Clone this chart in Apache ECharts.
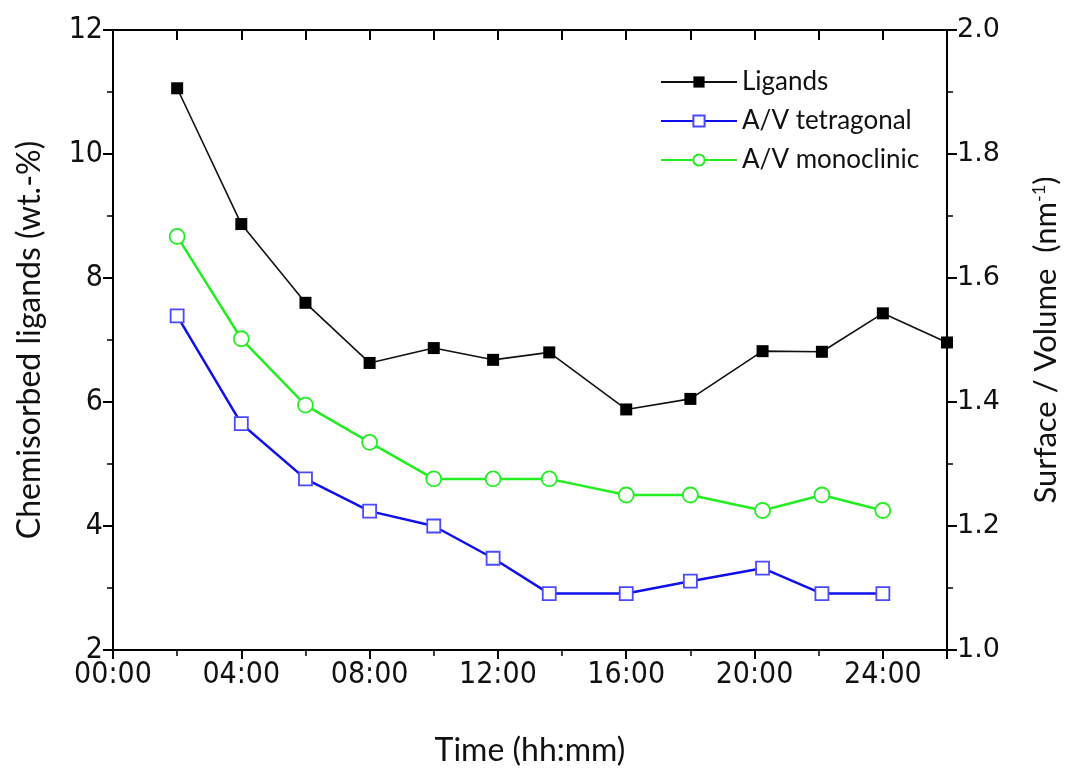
<!DOCTYPE html>
<html>
<head>
<meta charset="utf-8">
<script src="https://cdn.jsdelivr.net/npm/echarts@6/dist/echarts.min.js"></script>
<style>
html,body{margin:0;padding:0;background:#fff;overflow:hidden;}
#chart{width:1065px;height:769px;}
</style>
</head>
<body>
<div id="chart"></div>
<script>
// hours since start
const timeLigands = [2, 4, 6, 8, 10, 11.85, 13.6, 16, 18, 20.25, 22.1, 24, 26];
const ligands = [11.06, 8.87, 7.60, 6.63, 6.87, 6.68, 6.80, 5.88, 6.05, 6.82, 6.81, 7.43, 6.96];
const timeAV = [2, 4, 6, 8, 10, 11.85, 13.6, 16, 18, 20.25, 22.1, 24];
const avTetragonal = [1.539, 1.365, 1.276, 1.224, 1.200, 1.148, 1.091, 1.091, 1.111, 1.132, 1.091, 1.091];
const avMonoclinic = [1.667, 1.502, 1.395, 1.335, 1.276, 1.276, 1.276, 1.250, 1.250, 1.225, 1.250, 1.225];
const seriesNames = ['Ligands', 'A/V tetragonal', 'A/V monoclinic'];

const FONT = '"Liberation Sans Narrow", "DejaVu Sans Condensed", Lato, sans-serif';
const FONT2 = 'Lato, "Open Sans", sans-serif';

function zip(xs, ys){ return xs.map((x,i)=>[x, ys[i]]); }
function fmtTime(v){
  if (Math.abs(v % 4) > 1e-9) return '';
  const h = Math.round(v);
  return (h < 10 ? '0' + h : '' + h) + ':00';
}

const chart = echarts.init(document.getElementById('chart'));
const axisLine = {show: true, onZero: false, lineStyle: {color: '#000', width: 2}};
chart.setOption({
  animation: false,
  backgroundColor: '#fff',
  grid: {left: 113, right: 118, top: 30, bottom: 119, containLabel: false, outerBoundsMode: 'none'},
  legend: {
    orient: 'vertical', left: 655, top: 64, itemGap: 13,
    itemWidth: 76, itemHeight: 14,
    textStyle: {fontFamily: FONT2, fontSize: 26, color: '#111'},
    data: seriesNames
  },
  xAxis: [{
    type: 'value', min: 0, max: 26, interval: 4,
    name: 'Time (hh:mm)', nameLocation: 'middle', nameGap: 85,
    nameTextStyle: {fontFamily: FONT2, fontSize: 32, color: '#111'},
    axisLine: axisLine,
    axisTick: {show: true, inside: false, length: 9, lineStyle: {color: '#000', width: 2}},
    minorTick: {show: true, splitNumber: 2, length: 6, lineStyle: {color: '#000', width: 1.5}},
    axisLabel: {formatter: fmtTime, fontFamily: FONT, fontSize: 30, color: '#111', margin: 10, showMaxLabel: false},
    splitLine: {show: false}
  }, {
    type: 'value', position: 'top', min: 0, max: 26, interval: 2,
    axisLine: axisLine,
    axisTick: {show: true, inside: true, length: 10, lineStyle: {color: '#000', width: 2}},
    axisLabel: {show: false},
    splitLine: {show: false}
  }],
  yAxis: [{
    type: 'value', min: 2, max: 12, interval: 2, position: 'left',
    name: 'Chemisorbed ligands (wt.-%)', nameLocation: 'middle', nameGap: 67,
    nameTextStyle: {fontFamily: FONT2, fontSize: 32, color: '#111'},
    axisLine: axisLine,
    axisTick: {show: true, length: 10, lineStyle: {color: '#000', width: 2}},
    minorTick: {show: true, splitNumber: 2, length: 6, lineStyle: {color: '#000', width: 1.5}},
    axisLabel: {fontFamily: FONT, fontSize: 30, color: '#111', margin: 10},
    splitLine: {show: false}
  }, {
    type: 'value', min: 1.0, max: 2.0, interval: 0.2, position: 'right',
    name: 'Surface / Volume  (nm{sup|-1})', nameLocation: 'middle', nameGap: 83,
    nameRotate: 90,
    nameTextStyle: {fontFamily: FONT2, fontSize: 31, color: '#111',
      rich: {sup: {fontFamily: FONT2, fontSize: 18, color: '#111', verticalAlign: 'top', padding: [0,0,14,0]}}},
    axisLine: axisLine,
    axisTick: {show: true, length: 10, lineStyle: {color: '#000', width: 2}},
    minorTick: {show: true, splitNumber: 2, length: 6, lineStyle: {color: '#000', width: 1.5}},
    axisLabel: {formatter: v => v.toFixed(1), fontFamily: '"DejaVu Sans", sans-serif', fontSize: 27, color: '#111', margin: 10},
    splitLine: {show: false}
  }],
  series: [{
    name: seriesNames[1], type: 'line', xAxisIndex: 0, yAxisIndex: 1,
    data: zip(timeAV, avTetragonal),
    symbol: 'rect', symbolSize: 13,
    lineStyle: {color: '#1010ee', width: 2.5},
    itemStyle: {color: '#fff', borderColor: '#4a4aff', borderWidth: 1.8},
    z: 3
  }, {
    name: seriesNames[2], type: 'line', xAxisIndex: 0, yAxisIndex: 1,
    data: zip(timeAV, avMonoclinic),
    symbol: 'circle', symbolSize: 15,
    lineStyle: {color: '#22ee22', width: 2.5},
    itemStyle: {color: '#fff', borderColor: '#22ee22', borderWidth: 1.8},
    z: 3
  }, {
    name: seriesNames[0], type: 'line', xAxisIndex: 0, yAxisIndex: 0,
    data: zip(timeLigands, ligands),
    symbol: 'rect', symbolSize: 12,
    lineStyle: {color: '#111', width: 1.6},
    itemStyle: {color: '#000', borderColor: '#000', borderWidth: 0},
    clip: false,
    z: 4
  }]
});
</script>
</body>
</html>
